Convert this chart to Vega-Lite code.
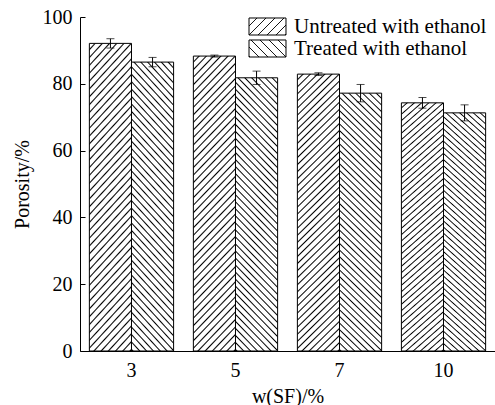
{
  "$schema": "https://vega.github.io/schema/vega-lite/v6.json",
  "width": 415,
  "height": 334,
  "autosize": {"type": "none"},
  "padding": {"left": 80, "top": 17, "right": 0, "bottom": 54},
  "background": "white",
  "data": {
    "values": [
      {"w": "3", "group": "Untreated with ethanol", "value": 92.1, "lo": 90.7, "hi": 93.5},
      {"w": "3", "group": "Treated with ethanol", "value": 86.5, "lo": 85.1, "hi": 87.9},
      {"w": "5", "group": "Untreated with ethanol", "value": 88.3, "lo": 88.0, "hi": 88.6},
      {"w": "5", "group": "Treated with ethanol", "value": 81.8, "lo": 79.8, "hi": 83.8},
      {"w": "7", "group": "Untreated with ethanol", "value": 82.9, "lo": 82.5, "hi": 83.3},
      {"w": "7", "group": "Treated with ethanol", "value": 77.2, "lo": 74.6, "hi": 79.8},
      {"w": "10", "group": "Untreated with ethanol", "value": 74.3, "lo": 72.7, "hi": 75.9},
      {"w": "10", "group": "Treated with ethanol", "value": 71.3, "lo": 68.9, "hi": 73.7}
    ]
  },
  "config": {
    "font": "Liberation Serif",
    "view": {"stroke": null},
    "legend": {"labelFont": "Liberation Serif", "labelFontSize": 21, "labelColor": "black"},
    "axis": {
      "labelFont": "Liberation Serif",
      "titleFont": "Liberation Serif",
      "labelFontSize": 20,
      "titleFontSize": 20,
      "titleFontWeight": "normal",
      "labelColor": "black",
      "titleColor": "black",
      "domainColor": "black",
      "tickColor": "black",
      "domainWidth": 1,
      "tickWidth": 1,
      "grid": false
    }
  },
  "encoding": {
    "x": {
      "field": "w",
      "type": "ordinal",
      "sort": ["3", "5", "7", "10"],
      "scale": {"paddingInner": 0.19, "paddingOuter": 0.09},
      "axis": {"title": "w(SF)/%", "labelAngle": 0, "ticks": false, "labelPadding": 9, "titlePadding": 6}
    },
    "xOffset": {
      "field": "group",
      "type": "nominal",
      "sort": ["Untreated with ethanol", "Treated with ethanol"],
      "scale": {"paddingInner": 0, "paddingOuter": 0}
    }
  },
  "layer": [
    {
      "mark": {"type": "bar", "stroke": "black", "strokeWidth": 1},
      "encoding": {
        "y": {
          "field": "value",
          "type": "quantitative",
          "scale": {"domain": [0, 100], "nice": false},
          "axis": {"title": "Porosity/%", "values": [0, 20, 40, 60, 80, 100], "tickSize": -5, "labelPadding": 13, "titlePadding": 10}
        },
        "fill": {
          "condition": [
            {"test": "datum.group === 'Untreated with ethanol'", "value": {"gradient": "linear", "x1": 0, "y1": 0, "x2": 0.1675, "y2": 1.124, "stops": [
                {"offset":0,"color":"#fff"},{"offset":0.0133,"color":"#fff"},{"offset":0.0178,"color":"#000"},
                {"offset":0.0222,"color":"#fff"},{"offset":0.0356,"color":"#fff"},{"offset":0.04,"color":"#000"},
                {"offset":0.0444,"color":"#fff"},{"offset":0.0578,"color":"#fff"},{"offset":0.0622,"color":"#000"},
                {"offset":0.0667,"color":"#fff"},{"offset":0.08,"color":"#fff"},{"offset":0.0844,"color":"#000"},
                {"offset":0.0889,"color":"#fff"},{"offset":0.1022,"color":"#fff"},{"offset":0.1067,"color":"#000"},
                {"offset":0.1111,"color":"#fff"},{"offset":0.1244,"color":"#fff"},{"offset":0.1289,"color":"#000"},
                {"offset":0.1333,"color":"#fff"},{"offset":0.1467,"color":"#fff"},{"offset":0.1511,"color":"#000"},
                {"offset":0.1556,"color":"#fff"},{"offset":0.1689,"color":"#fff"},{"offset":0.1733,"color":"#000"},
                {"offset":0.1778,"color":"#fff"},{"offset":0.1911,"color":"#fff"},{"offset":0.1956,"color":"#000"},
                {"offset":0.2,"color":"#fff"},{"offset":0.2133,"color":"#fff"},{"offset":0.2178,"color":"#000"},
                {"offset":0.2222,"color":"#fff"},{"offset":0.2356,"color":"#fff"},{"offset":0.24,"color":"#000"},
                {"offset":0.2444,"color":"#fff"},{"offset":0.2578,"color":"#fff"},{"offset":0.2622,"color":"#000"},
                {"offset":0.2667,"color":"#fff"},{"offset":0.28,"color":"#fff"},{"offset":0.2844,"color":"#000"},
                {"offset":0.2889,"color":"#fff"},{"offset":0.3022,"color":"#fff"},{"offset":0.3067,"color":"#000"},
                {"offset":0.3111,"color":"#fff"},{"offset":0.3244,"color":"#fff"},{"offset":0.3289,"color":"#000"},
                {"offset":0.3333,"color":"#fff"},{"offset":0.3467,"color":"#fff"},{"offset":0.3511,"color":"#000"},
                {"offset":0.3556,"color":"#fff"},{"offset":0.3689,"color":"#fff"},{"offset":0.3733,"color":"#000"},
                {"offset":0.3778,"color":"#fff"},{"offset":0.3911,"color":"#fff"},{"offset":0.3956,"color":"#000"},
                {"offset":0.4,"color":"#fff"},{"offset":0.4133,"color":"#fff"},{"offset":0.4178,"color":"#000"},
                {"offset":0.4222,"color":"#fff"},{"offset":0.4356,"color":"#fff"},{"offset":0.44,"color":"#000"},
                {"offset":0.4444,"color":"#fff"},{"offset":0.4578,"color":"#fff"},{"offset":0.4622,"color":"#000"},
                {"offset":0.4667,"color":"#fff"},{"offset":0.48,"color":"#fff"},{"offset":0.4844,"color":"#000"},
                {"offset":0.4889,"color":"#fff"},{"offset":0.5022,"color":"#fff"},{"offset":0.5067,"color":"#000"},
                {"offset":0.5111,"color":"#fff"},{"offset":0.5244,"color":"#fff"},{"offset":0.5289,"color":"#000"},
                {"offset":0.5333,"color":"#fff"},{"offset":0.5467,"color":"#fff"},{"offset":0.5511,"color":"#000"},
                {"offset":0.5556,"color":"#fff"},{"offset":0.5689,"color":"#fff"},{"offset":0.5733,"color":"#000"},
                {"offset":0.5778,"color":"#fff"},{"offset":0.5911,"color":"#fff"},{"offset":0.5956,"color":"#000"},
                {"offset":0.6,"color":"#fff"},{"offset":0.6133,"color":"#fff"},{"offset":0.6178,"color":"#000"},
                {"offset":0.6222,"color":"#fff"},{"offset":0.6356,"color":"#fff"},{"offset":0.64,"color":"#000"},
                {"offset":0.6444,"color":"#fff"},{"offset":0.6578,"color":"#fff"},{"offset":0.6622,"color":"#000"},
                {"offset":0.6667,"color":"#fff"},{"offset":0.68,"color":"#fff"},{"offset":0.6844,"color":"#000"},
                {"offset":0.6889,"color":"#fff"},{"offset":0.7022,"color":"#fff"},{"offset":0.7067,"color":"#000"},
                {"offset":0.7111,"color":"#fff"},{"offset":0.7244,"color":"#fff"},{"offset":0.7289,"color":"#000"},
                {"offset":0.7333,"color":"#fff"},{"offset":0.7467,"color":"#fff"},{"offset":0.7511,"color":"#000"},
                {"offset":0.7556,"color":"#fff"},{"offset":0.7689,"color":"#fff"},{"offset":0.7733,"color":"#000"},
                {"offset":0.7778,"color":"#fff"},{"offset":0.7911,"color":"#fff"},{"offset":0.7956,"color":"#000"},
                {"offset":0.8,"color":"#fff"},{"offset":0.8133,"color":"#fff"},{"offset":0.8178,"color":"#000"},
                {"offset":0.8222,"color":"#fff"},{"offset":0.8356,"color":"#fff"},{"offset":0.84,"color":"#000"},
                {"offset":0.8444,"color":"#fff"},{"offset":0.8578,"color":"#fff"},{"offset":0.8622,"color":"#000"},
                {"offset":0.8667,"color":"#fff"},{"offset":0.88,"color":"#fff"},{"offset":0.8844,"color":"#000"},
                {"offset":0.8889,"color":"#fff"},{"offset":0.9022,"color":"#fff"},{"offset":0.9067,"color":"#000"},
                {"offset":0.9111,"color":"#fff"},{"offset":0.9244,"color":"#fff"},{"offset":0.9289,"color":"#000"},
                {"offset":0.9333,"color":"#fff"},{"offset":0.9467,"color":"#fff"},{"offset":0.9511,"color":"#000"},
                {"offset":0.9556,"color":"#fff"},{"offset":0.9689,"color":"#fff"},{"offset":0.9733,"color":"#000"},
                {"offset":0.9778,"color":"#fff"},{"offset":0.9911,"color":"#fff"},{"offset":0.9956,"color":"#000"},
                {"offset":1,"color":"#fff"}
              ]}},
            {"test": "datum.group === 'Treated with ethanol'", "value": {"gradient": "linear", "x1": 1, "y1": 0, "x2": 0.8206, "y2": 1.13, "stops": [
                {"offset":0,"color":"#fff"},{"offset":0.0133,"color":"#fff"},{"offset":0.0178,"color":"#000"},
                {"offset":0.0222,"color":"#fff"},{"offset":0.0356,"color":"#fff"},{"offset":0.04,"color":"#000"},
                {"offset":0.0444,"color":"#fff"},{"offset":0.0578,"color":"#fff"},{"offset":0.0622,"color":"#000"},
                {"offset":0.0667,"color":"#fff"},{"offset":0.08,"color":"#fff"},{"offset":0.0844,"color":"#000"},
                {"offset":0.0889,"color":"#fff"},{"offset":0.1022,"color":"#fff"},{"offset":0.1067,"color":"#000"},
                {"offset":0.1111,"color":"#fff"},{"offset":0.1244,"color":"#fff"},{"offset":0.1289,"color":"#000"},
                {"offset":0.1333,"color":"#fff"},{"offset":0.1467,"color":"#fff"},{"offset":0.1511,"color":"#000"},
                {"offset":0.1556,"color":"#fff"},{"offset":0.1689,"color":"#fff"},{"offset":0.1733,"color":"#000"},
                {"offset":0.1778,"color":"#fff"},{"offset":0.1911,"color":"#fff"},{"offset":0.1956,"color":"#000"},
                {"offset":0.2,"color":"#fff"},{"offset":0.2133,"color":"#fff"},{"offset":0.2178,"color":"#000"},
                {"offset":0.2222,"color":"#fff"},{"offset":0.2356,"color":"#fff"},{"offset":0.24,"color":"#000"},
                {"offset":0.2444,"color":"#fff"},{"offset":0.2578,"color":"#fff"},{"offset":0.2622,"color":"#000"},
                {"offset":0.2667,"color":"#fff"},{"offset":0.28,"color":"#fff"},{"offset":0.2844,"color":"#000"},
                {"offset":0.2889,"color":"#fff"},{"offset":0.3022,"color":"#fff"},{"offset":0.3067,"color":"#000"},
                {"offset":0.3111,"color":"#fff"},{"offset":0.3244,"color":"#fff"},{"offset":0.3289,"color":"#000"},
                {"offset":0.3333,"color":"#fff"},{"offset":0.3467,"color":"#fff"},{"offset":0.3511,"color":"#000"},
                {"offset":0.3556,"color":"#fff"},{"offset":0.3689,"color":"#fff"},{"offset":0.3733,"color":"#000"},
                {"offset":0.3778,"color":"#fff"},{"offset":0.3911,"color":"#fff"},{"offset":0.3956,"color":"#000"},
                {"offset":0.4,"color":"#fff"},{"offset":0.4133,"color":"#fff"},{"offset":0.4178,"color":"#000"},
                {"offset":0.4222,"color":"#fff"},{"offset":0.4356,"color":"#fff"},{"offset":0.44,"color":"#000"},
                {"offset":0.4444,"color":"#fff"},{"offset":0.4578,"color":"#fff"},{"offset":0.4622,"color":"#000"},
                {"offset":0.4667,"color":"#fff"},{"offset":0.48,"color":"#fff"},{"offset":0.4844,"color":"#000"},
                {"offset":0.4889,"color":"#fff"},{"offset":0.5022,"color":"#fff"},{"offset":0.5067,"color":"#000"},
                {"offset":0.5111,"color":"#fff"},{"offset":0.5244,"color":"#fff"},{"offset":0.5289,"color":"#000"},
                {"offset":0.5333,"color":"#fff"},{"offset":0.5467,"color":"#fff"},{"offset":0.5511,"color":"#000"},
                {"offset":0.5556,"color":"#fff"},{"offset":0.5689,"color":"#fff"},{"offset":0.5733,"color":"#000"},
                {"offset":0.5778,"color":"#fff"},{"offset":0.5911,"color":"#fff"},{"offset":0.5956,"color":"#000"},
                {"offset":0.6,"color":"#fff"},{"offset":0.6133,"color":"#fff"},{"offset":0.6178,"color":"#000"},
                {"offset":0.6222,"color":"#fff"},{"offset":0.6356,"color":"#fff"},{"offset":0.64,"color":"#000"},
                {"offset":0.6444,"color":"#fff"},{"offset":0.6578,"color":"#fff"},{"offset":0.6622,"color":"#000"},
                {"offset":0.6667,"color":"#fff"},{"offset":0.68,"color":"#fff"},{"offset":0.6844,"color":"#000"},
                {"offset":0.6889,"color":"#fff"},{"offset":0.7022,"color":"#fff"},{"offset":0.7067,"color":"#000"},
                {"offset":0.7111,"color":"#fff"},{"offset":0.7244,"color":"#fff"},{"offset":0.7289,"color":"#000"},
                {"offset":0.7333,"color":"#fff"},{"offset":0.7467,"color":"#fff"},{"offset":0.7511,"color":"#000"},
                {"offset":0.7556,"color":"#fff"},{"offset":0.7689,"color":"#fff"},{"offset":0.7733,"color":"#000"},
                {"offset":0.7778,"color":"#fff"},{"offset":0.7911,"color":"#fff"},{"offset":0.7956,"color":"#000"},
                {"offset":0.8,"color":"#fff"},{"offset":0.8133,"color":"#fff"},{"offset":0.8178,"color":"#000"},
                {"offset":0.8222,"color":"#fff"},{"offset":0.8356,"color":"#fff"},{"offset":0.84,"color":"#000"},
                {"offset":0.8444,"color":"#fff"},{"offset":0.8578,"color":"#fff"},{"offset":0.8622,"color":"#000"},
                {"offset":0.8667,"color":"#fff"},{"offset":0.88,"color":"#fff"},{"offset":0.8844,"color":"#000"},
                {"offset":0.8889,"color":"#fff"},{"offset":0.9022,"color":"#fff"},{"offset":0.9067,"color":"#000"},
                {"offset":0.9111,"color":"#fff"},{"offset":0.9244,"color":"#fff"},{"offset":0.9289,"color":"#000"},
                {"offset":0.9333,"color":"#fff"},{"offset":0.9467,"color":"#fff"},{"offset":0.9511,"color":"#000"},
                {"offset":0.9556,"color":"#fff"},{"offset":0.9689,"color":"#fff"},{"offset":0.9733,"color":"#000"},
                {"offset":0.9778,"color":"#fff"},{"offset":0.9911,"color":"#fff"},{"offset":0.9956,"color":"#000"},
                {"offset":1,"color":"#fff"}
              ]}}
          ],
          "field": "group",
          "type": "nominal",
          "sort": ["Untreated with ethanol", "Treated with ethanol"],
          "scale": {
            "domain": ["Untreated with ethanol", "Treated with ethanol"],
            "range": [
              {"expr": "{gradient:'linear',x1:0,y1:0,x2:1.205,y2:0.553,stops:[{offset:0,color:'#fff'},{offset:0.13,color:'#fff'},{offset:0.15,color:'#000'},{offset:0.1667,color:'#fff'},{offset:0.2967,color:'#fff'},{offset:0.3167,color:'#000'},{offset:0.3333,color:'#fff'},{offset:0.4633,color:'#fff'},{offset:0.4833,color:'#000'},{offset:0.5,color:'#fff'},{offset:0.63,color:'#fff'},{offset:0.65,color:'#000'},{offset:0.6667,color:'#fff'},{offset:0.7967,color:'#fff'},{offset:0.8167,color:'#000'},{offset:0.8333,color:'#fff'},{offset:0.9633,color:'#fff'},{offset:0.9833,color:'#000'},{offset:1,color:'#fff'}]}"},
              {"expr": "{gradient:'linear',x1:1,y1:0,x2:-0.205,y2:0.553,stops:[{offset:0,color:'#fff'},{offset:0.13,color:'#fff'},{offset:0.15,color:'#000'},{offset:0.1667,color:'#fff'},{offset:0.2967,color:'#fff'},{offset:0.3167,color:'#000'},{offset:0.3333,color:'#fff'},{offset:0.4633,color:'#fff'},{offset:0.4833,color:'#000'},{offset:0.5,color:'#fff'},{offset:0.63,color:'#fff'},{offset:0.65,color:'#000'},{offset:0.6667,color:'#fff'},{offset:0.7967,color:'#fff'},{offset:0.8167,color:'#000'},{offset:0.8333,color:'#fff'},{offset:0.9633,color:'#fff'},{offset:0.9833,color:'#000'},{offset:1,color:'#fff'}]}"}
            ]
          },
          "legend": {
            "title": null,
            "orient": "none",
            "legendX": 177,
            "legendY": -1,
            "padding": 0,
            "symbolType": "M-2,-0.92H2V0.92H-2Z",
            "symbolSize": 342,
            "symbolStrokeColor": "black",
            "symbolStrokeWidth": 1,
            "symbolOpacity": 1,
            "labelFont": "Liberation Serif",
            "labelFontSize": 21,
            "labelColor": "black",
            "labelOffset": 16,
            "labelLimit": 0,
            "rowPadding": -1,
            "encode": {
              "symbols": {
                "update": {
                  "stroke": {"value": "black"},
                  "strokeWidth": {"value": 1},
                  "opacity": {"value": 1},
                  "fillOpacity": {"value": 1},
                  "strokeOpacity": {"value": 1},
                  "shape": {"value": "M-2,-0.92H2V0.92H-2Z"},
                  "size": {"value": 342}
                }
              },
              "labels": {
                "update": {
                  "font": {"value": "Liberation Serif"},
                  "fontSize": {"value": 21},
                  "fill": {"value": "black"}
                }
              }
            }
          }
        }
      }
    },
    {
      "mark": {"type": "rule", "color": "black", "strokeWidth": 1},
      "encoding": {
        "y": {"field": "lo", "type": "quantitative", "title": "Porosity/%"},
        "y2": {"field": "hi"}
      }
    },
    {
      "mark": {"type": "tick", "color": "black", "size": 8, "thickness": 1},
      "encoding": {"y": {"field": "lo", "type": "quantitative", "title": "Porosity/%"}}
    },
    {
      "mark": {"type": "tick", "color": "black", "size": 8, "thickness": 1},
      "encoding": {"y": {"field": "hi", "type": "quantitative", "title": "Porosity/%"}}
    }
  ]
}
